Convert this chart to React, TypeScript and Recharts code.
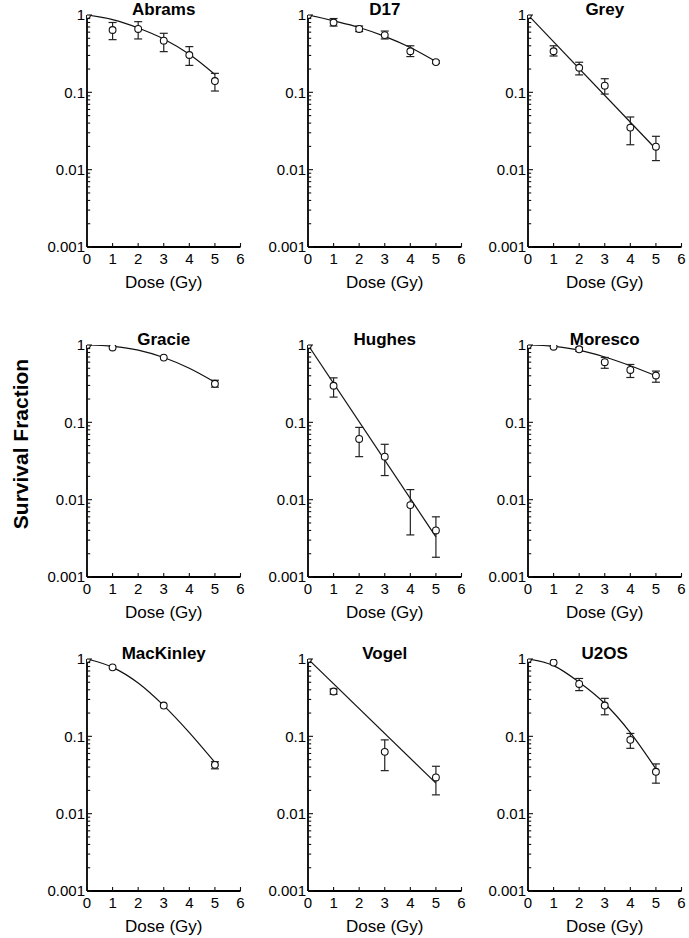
import React from 'react';
import { ComposedChart, Line, Scatter, XAxis, YAxis, ErrorBar, Label } from 'recharts';

// ---------- axis ticks ----------
const X_TICKS = [0, 1, 2, 3, 4, 5, 6];
const Y_MAJOR = [0.001, 0.01, 0.1, 1];
const Y_MAJOR_LABELS = ['0.001', '0.01', '0.1', '1'];
const Y_MINOR = [
  0.002, 0.003, 0.004, 0.005, 0.006, 0.007, 0.008, 0.009,
  0.02, 0.03, 0.04, 0.05, 0.06, 0.07, 0.08, 0.09,
  0.2, 0.3, 0.4, 0.5, 0.6, 0.7, 0.8, 0.9,
];
const X_LABEL = 'Dose (Gy)';
const Y_LABEL = 'Survival Fraction';

// ---------- data ----------
const DOSES_ALL = [0, 1, 2, 3, 4, 5];
const DOSES_0135 = [0, 1, 3, 5];
const LINE_ENDS = [0, 5];

const ABRAMS_SF = [1.0, 0.64, 0.66, 0.466, 0.304, 0.14];
const ABRAMS_LO = [null, 0.48, 0.49, 0.336, 0.223, 0.104];
const ABRAMS_HI = [null, 0.8, 0.82, 0.58, 0.39, 0.176];
const ABRAMS_FIT = [1.0, 0.87, 0.68, 0.49, 0.31, 0.17];

const D17_SF = [1.0, 0.8, 0.66, 0.55, 0.34, 0.246];
const D17_LO = [null, 0.72, 0.61, 0.49, 0.29, 0.237];
const D17_HI = [null, 0.9, 0.72, 0.62, 0.4, 0.256];
const D17_FIT = [1.0, 0.84, 0.69, 0.53, 0.38, 0.25];

const GREY_SF = [1.0, 0.34, 0.208, 0.122, 0.035, 0.0198];
const GREY_LO = [null, 0.295, 0.168, 0.095, 0.021, 0.0131];
const GREY_HI = [null, 0.4, 0.245, 0.15, 0.048, 0.027];
const GREY_FIT = [1.0, 0.0185];

const GRACIE_SF = [1.0, 0.93, 0.687, 0.315];
const GRACIE_LO = [null, null, null, 0.285];
const GRACIE_HI = [null, null, null, 0.35];
const GRACIE_FIT = [1.0, 0.96, 0.86, 0.69, 0.5, 0.33];

const HUGHES_SF = [1.0, 0.297, 0.061, 0.036, 0.0085, 0.004];
const HUGHES_LO = [null, 0.212, 0.036, 0.0205, 0.0035, 0.0018];
const HUGHES_HI = [null, 0.376, 0.086, 0.052, 0.0135, 0.006];
const HUGHES_FIT = [1.0, 0.0033];

const MORESCO_SF = [1.0, 0.95, 0.88, 0.6, 0.476, 0.403];
const MORESCO_LO = [null, null, 0.83, 0.5, 0.38, 0.33];
const MORESCO_HI = [null, null, 0.93, 0.69, 0.56, 0.46];
const MORESCO_FIT = [1.0, 0.96, 0.86, 0.7, 0.54, 0.4];

const MACKINLEY_SF = [1.0, 0.78, 0.25, 0.0428];
const MACKINLEY_LO = [null, null, null, 0.038];
const MACKINLEY_HI = [null, null, null, 0.047];
const MACKINLEY_FIT = [1.0, 0.78, 0.49, 0.25, 0.112, 0.046];

const VOGEL_SF = [1.0, 0.38, 0.063, 0.0294];
const VOGEL_LO = [null, 0.35, 0.036, 0.0175];
const VOGEL_HI = [null, 0.41, 0.09, 0.041];
const VOGEL_FIT = [1.0, 0.0248];

const U2OS_SF = [1.0, 0.9, 0.476, 0.25, 0.09, 0.0348];
const U2OS_LO = [null, null, 0.39, 0.19, 0.07, 0.0248];
const U2OS_HI = [null, null, 0.56, 0.31, 0.109, 0.044];
const U2OS_FIT = [1.0, 0.82, 0.5, 0.266, 0.112, 0.038];

// ---------- build tables ----------
type Pt = { x: number; y: number; err: [number, number] | null };
const makePoints = (xs: number[], ys: number[], lo: (number | null)[], hi: (number | null)[]): Pt[] =>
  xs.map((x, i) => ({
    x,
    y: ys[i],
    err: lo[i] != null && hi[i] != null ? [ys[i] - (lo[i] as number), (hi[i] as number) - ys[i]] : null,
  }));
const makeFit = (xs: number[], ys: number[]) => xs.map((x, i) => ({ x, y: ys[i] }));

const PANELS = [
  { title: 'Abrams', pts: makePoints(DOSES_ALL, ABRAMS_SF, ABRAMS_LO, ABRAMS_HI), fit: makeFit(DOSES_ALL, ABRAMS_FIT), curve: 'monotone' },
  { title: 'D17', pts: makePoints(DOSES_ALL, D17_SF, D17_LO, D17_HI), fit: makeFit(DOSES_ALL, D17_FIT), curve: 'monotone' },
  { title: 'Grey', pts: makePoints(DOSES_ALL, GREY_SF, GREY_LO, GREY_HI), fit: makeFit(LINE_ENDS, GREY_FIT), curve: 'linear' },
  { title: 'Gracie', pts: makePoints(DOSES_0135, GRACIE_SF, GRACIE_LO, GRACIE_HI), fit: makeFit(DOSES_ALL, GRACIE_FIT), curve: 'monotone' },
  { title: 'Hughes', pts: makePoints(DOSES_ALL, HUGHES_SF, HUGHES_LO, HUGHES_HI), fit: makeFit(LINE_ENDS, HUGHES_FIT), curve: 'linear' },
  { title: 'Moresco', pts: makePoints(DOSES_ALL, MORESCO_SF, MORESCO_LO, MORESCO_HI), fit: makeFit(DOSES_ALL, MORESCO_FIT), curve: 'monotone' },
  { title: 'MacKinley', pts: makePoints(DOSES_0135, MACKINLEY_SF, MACKINLEY_LO, MACKINLEY_HI), fit: makeFit(DOSES_ALL, MACKINLEY_FIT), curve: 'monotone' },
  { title: 'Vogel', pts: makePoints(DOSES_0135, VOGEL_SF, VOGEL_LO, VOGEL_HI), fit: makeFit(LINE_ENDS, VOGEL_FIT), curve: 'linear' },
  { title: 'U2OS', pts: makePoints(DOSES_ALL, U2OS_SF, U2OS_LO, U2OS_HI), fit: makeFit(DOSES_ALL, U2OS_FIT), curve: 'monotone' },
];

const Y_TICKS = [...Y_MAJOR, ...Y_MINOR].sort((a, b) => a - b);

// ---------- layout ----------
const COL_AXIS_X = [87, 308, 528];
const ROW_TOP_Y = [15, 345, 659];
const PLOT_W = 153.5;
const PLOT_H = 232;
const YAXIS_W = 55;
const XAXIS_H = 41;
const CHART_W = 215;
const CHART_H = 300;
const M_TOP = 15;
const AXIS_X_IN_CHART = YAXIS_W; // left margin is 0
const AXIS_Y_IN_CHART = M_TOP + PLOT_H;
const FONT = '"Liberation Sans", Arial, Helvetica, sans-serif';

const majorIndex = (v: number) => Y_MAJOR.findIndex((m) => Math.abs(m - v) < m * 1e-6);

const YTick = (props: any) => {
  const { y, payload } = props;
  const ax = AXIS_X_IN_CHART;
  const idx = majorIndex(payload.value);
  const major = idx >= 0;
  return (
    <g>
      <path d={`M${ax},${y}H${ax + (major ? 5 : 3.2)}`} stroke="#111" strokeWidth={1.1} fill="none" />
      {major && (
        <text x={ax - 2} y={y} dy={5.2} textAnchor="end" fontSize={15} fill="#000">
          {Y_MAJOR_LABELS[idx]}
        </text>
      )}
    </g>
  );
};

const XTick = (props: any) => {
  const { x, payload } = props;
  const ay = AXIS_Y_IN_CHART;
  return (
    <g>
      <path d={`M${x},${ay}V${ay - 4}`} stroke="#111" strokeWidth={1.1} fill="none" />
      <text x={x} y={ay} dy={16.5} textAnchor="middle" fontSize={15} fill="#000">
        {String(payload.value)}
      </text>
    </g>
  );
};

const Circle = (props: any) => {
  const { cx, cy } = props;
  if (cx == null || cy == null) return null;
  return <circle cx={cx} cy={cy} r={3.4} fill="#fff" stroke="#111" strokeWidth={1.1} />;
};

const Panel = ({ panel, col, row }: any) => {
  const axisX = COL_AXIS_X[col];
  const topY = ROW_TOP_Y[row];
  const left = axisX - YAXIS_W;
  const top = topY - M_TOP;
  return (
    <>
      <div
        style={{
          position: 'absolute',
          left: axisX,
          top: topY - 15,
          width: PLOT_W,
          textAlign: 'center',
          fontWeight: 'bold',
          fontSize: 17,
          lineHeight: '19px',
          color: '#000',
          fontFamily: FONT,
        }}
      >
        {panel.title}
      </div>
      <div style={{ position: 'absolute', left, top }}>
        <ComposedChart
          width={CHART_W}
          height={CHART_H}
          margin={{ top: M_TOP, left: 0, right: CHART_W - YAXIS_W - PLOT_W, bottom: CHART_H - M_TOP - PLOT_H - XAXIS_H }}
        >
          <XAxis
            type="number"
            dataKey="x"
            domain={[0, 6]}
            ticks={X_TICKS}
            interval={0}
            allowDataOverflow
            height={XAXIS_H}
            tickLine={false}
            tick={<XTick />}
            axisLine={{ stroke: '#000', strokeWidth: 1.8 }}
          >
            <Label value={X_LABEL} position="insideBottom" offset={0} fontSize={17} fill="#000" />
          </XAxis>
          <YAxis
            type="number"
            dataKey="y"
            scale="log"
            domain={[0.001, 1]}
            ticks={Y_TICKS}
            interval={0}
            allowDataOverflow
            width={YAXIS_W}
            tickLine={false}
            tick={<YTick />}
            axisLine={{ stroke: '#000', strokeWidth: 1.8 }}
          />
          <Line
            data={panel.fit}
            dataKey="y"
            type={panel.curve}
            stroke="#111"
            strokeWidth={1.2}
            dot={false}
            activeDot={false}
            isAnimationActive={false}
          />
          <Scatter data={panel.pts} dataKey="y" shape={<Circle />} isAnimationActive={false}>
            <ErrorBar dataKey="err" direction="y" width={4} stroke="#222" strokeWidth={1.2} />
          </Scatter>
        </ComposedChart>
      </div>
    </>
  );
};

export default function App() {
  return (
    <div style={{ position: 'absolute', left: 0, top: 0, width: 689, height: 938, background: '#fff', fontFamily: FONT }}>
      {PANELS.map((p, i) => (
        <Panel key={p.title} panel={p} col={i % 3} row={Math.floor(i / 3)} />
      ))}
      <svg width={40} height={938} style={{ position: 'absolute', left: 0, top: 0 }}>
        <text
          x={20}
          y={444}
          transform="rotate(-90 20 444)"
          textAnchor="middle"
          dominantBaseline="central"
          fontSize={21}
          fontWeight="bold"
          fill="#000"
          fontFamily={FONT}
        >
          {Y_LABEL}
        </text>
      </svg>
    </div>
  );
}
